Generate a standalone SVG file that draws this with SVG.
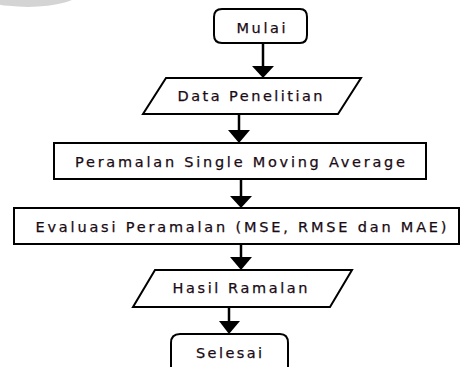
<svg xmlns="http://www.w3.org/2000/svg" width="460" height="367" viewBox="0 0 460 367">
<defs>
<style>
.shape{fill:#fff;stroke:#000;stroke-width:2;}
.lbl{font-family:"DejaVu Sans",Verdana,sans-serif;font-size:14.5px;fill:#1a0a14;text-anchor:middle;stroke:#1a0a14;stroke-width:0.25;}
.conn{stroke:#000;stroke-width:2.5;fill:none;}
.head{fill:#000;}
</style>
</defs>
<rect width="460" height="367" fill="#fff"/>
<ellipse cx="28" cy="-8" rx="52" ry="15" fill="#d4d4d4"/>
<g id="connectors">
<line class="conn" x1="263" y1="43" x2="263" y2="68"/>
<polygon class="head" points="252,66 274,66 263,78"/>
<line class="conn" x1="239" y1="114" x2="239" y2="132"/>
<polygon class="head" points="228,130 250,130 239,143"/>
<line class="conn" x1="241" y1="179" x2="241" y2="198"/>
<polygon class="head" points="230,196 252,196 241,208"/>
<line class="conn" x1="241" y1="244" x2="241" y2="259"/>
<polygon class="head" points="230,257 252,257 241,270"/>
<line class="conn" x1="229" y1="307" x2="229" y2="323"/>
<polygon class="head" points="219,321 240,321 229,334"/>
</g>
<g id="mulai">
<path class="shape" d="M222,9 H300 Q307,9 307,17 V35 Q307,43 300,43 H222 Q214,43 214,35 V17 Q214,9 222,9 Z"/>
<text class="lbl" x="261" y="33" textLength="49" lengthAdjust="spacing">Mulai</text>
</g>
<g id="data">
<polygon class="shape" points="166,78 361,78 338,114 143,114"/>
<text class="lbl" x="250" y="101" textLength="145" lengthAdjust="spacing">Data Penelitian</text>
</g>
<g id="peramalan">
<rect class="shape" x="54" y="143" width="372" height="36"/>
<text class="lbl" x="240" y="166.5" textLength="330" lengthAdjust="spacing">Peramalan Single Moving Average</text>
</g>
<g id="evaluasi">
<rect class="shape" x="14" y="208" width="445" height="36"/>
<text class="lbl" x="241" y="231.5" textLength="411" lengthAdjust="spacing">Evaluasi Peramalan (MSE, RMSE dan MAE)</text>
</g>
<g id="hasil">
<polygon class="shape" points="155,270 352,270 330,307 133,307"/>
<text class="lbl" x="240" y="293" textLength="135" lengthAdjust="spacing">Hasil Ramalan</text>
</g>
<g id="selesai">
<path class="shape" d="M180,334 H280 Q288,334 288,343 V368 M171,368 V343 Q171,334 180,334"/>
<text class="lbl" x="229" y="358" textLength="66" lengthAdjust="spacing">Selesai</text>
</g>
</svg>
